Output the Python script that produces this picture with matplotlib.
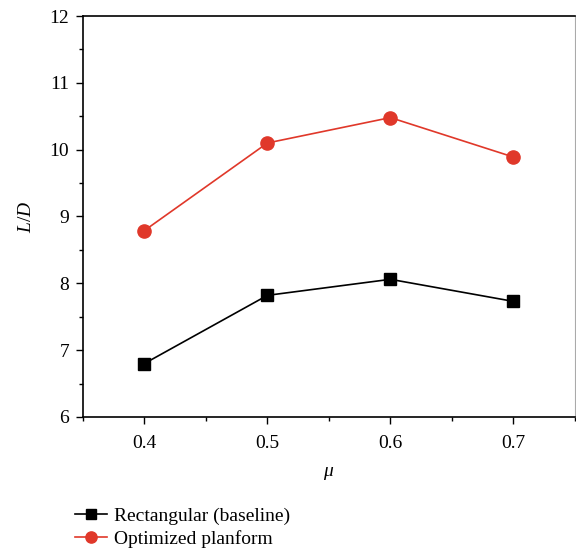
import matplotlib
matplotlib.use("Agg")
import matplotlib.pyplot as plt
from matplotlib.ticker import MultipleLocator

mu = [0.4, 0.5, 0.6, 0.7]
rect_ld = [6.80, 7.82, 8.06, 7.73]
opt_ld = [8.79, 10.10, 10.48, 9.89]
labels = ["Rectangular (baseline)", "Optimized planform"]

plt.rcParams['font.family'] = ['Liberation Serif', 'DejaVu Serif']
plt.rcParams['mathtext.fontset'] = 'custom'
plt.rcParams['mathtext.it'] = 'Liberation Serif:italic'
plt.rcParams['mathtext.rm'] = 'Liberation Serif'

fig = plt.figure(figsize=(5.76, 5.52), dpi=100)
ax = fig.add_axes([0.144, 0.2446, 0.854, 0.7264])

l1, = ax.plot(mu, rect_ld, color='black', lw=1.2, marker='s', markersize=8.5, label=labels[0])
l2, = ax.plot(mu, opt_ld, color='#E0382A', lw=1.2, marker='o', markersize=9.5, label=labels[1])

ax.set_xlim(0.35, 0.75)
ax.set_ylim(6, 12)
ax.xaxis.set_major_locator(MultipleLocator(0.1))
ax.xaxis.set_minor_locator(MultipleLocator(0.05))
ax.yaxis.set_major_locator(MultipleLocator(1))
ax.yaxis.set_minor_locator(MultipleLocator(0.5))
ax.set_xticks([0.4, 0.5, 0.6, 0.7])
ax.set_xticklabels(['0.4', '0.5', '0.6', '0.7'])
ax.tick_params(which='major', direction='out', length=5, width=1, labelsize=14, pad=5)
ax.tick_params(axis='x', which='major', pad=8)
ax.tick_params(which='minor', direction='out', length=3, width=1)
ax.tick_params(axis='x', top=False)
ax.tick_params(axis='y', right=False)
ax.spines['right'].set_color('#aaaaaa')
ax.spines['right'].set_linewidth(0.8)
for s in ['left', 'bottom', 'top']:
    ax.spines[s].set_linewidth(1.2)

ax.set_xlabel(r'$\mu$', fontsize=14, labelpad=9)
ax.set_ylabel(r'$L/D$', fontsize=14, labelpad=10)

fig.legend(handles=[l1, l2], loc='upper left', bbox_to_anchor=(0.117, 0.0945), frameon=False,
           fontsize=14, handlelength=1.65, handletextpad=0.36, labelspacing=0.25, borderaxespad=0,
           markerscale=0.85)

fig.savefig('out.png', dpi=100)
